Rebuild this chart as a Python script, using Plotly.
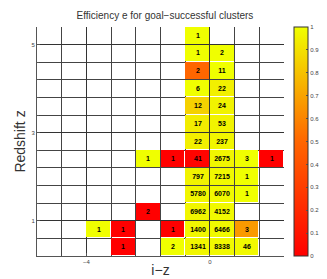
import plotly.graph_objects as go

# bin centres
iz_centers = [-5.2, -4.4, -3.6, -2.8, -2.0, -1.2, -0.4, 0.4, 1.2, 2.0]
z_centers = [0.4, 0.8, 1.2, 1.6, 2.0, 2.4, 2.8, 3.2, 3.6, 4.0, 4.4, 4.8, 5.2]

N = None
# number of clusters per cell (rows = redshift bins, bottom to top)
counts = [
    [N, N, N, 1, N, 2, 1341, 8338, 46, N],
    [N, N, 1, 1, N, 1, 1400, 6466, 3, N],
    [N, N, N, N, 2, N, 6962, 4152, N, N],
    [N, N, N, N, N, N, 5780, 6070, 1, N],
    [N, N, N, N, N, N, 797, 7215, 1, N],
    [N, N, N, N, 1, 1, 41, 2675, 3, 1],
    [N, N, N, N, N, N, 22, 237, N, N],
    [N, N, N, N, N, N, 17, 53, N, N],
    [N, N, N, N, N, N, 12, 24, N, N],
    [N, N, N, N, N, N, 6, 22, N, N],
    [N, N, N, N, N, N, 2, 11, N, N],
    [N, N, N, N, N, N, 1, 2, N, N],
    [N, N, N, N, N, N, 1, N, N, N],
]
# efficiency per cell
efficiency = [
    [N, N, N, 0.0, N, 1.0, 0.97, 0.98, 0.98, N],
    [N, N, 1.0, 0.0, N, 0.0, 0.97, 0.98, 0.67, N],
    [N, N, N, N, 0.0, N, 0.97, 0.98, N, N],
    [N, N, N, N, N, N, 0.97, 0.98, 1.0, N],
    [N, N, N, N, N, N, 0.96, 0.98, 1.0, N],
    [N, N, N, N, 1.0, 0.0, 0.02, 0.97, 1.0, 0.0],
    [N, N, N, N, N, N, 0.95, 0.97, N, N],
    [N, N, N, N, N, N, 0.94, 0.96, N, N],
    [N, N, N, N, N, N, 0.85, 0.96, N, N],
    [N, N, N, N, N, N, 1.0, 0.95, N, N],
    [N, N, N, N, N, N, 0.5, 1.0, N, N],
    [N, N, N, N, N, N, 1.0, 1.0, N, N],
    [N, N, N, N, N, N, 1.0, N, N, N],
]
cbar_ticks = [0, 0.1, 0.2, 0.3, 0.4, 0.5, 0.6, 0.7, 0.8, 0.9, 1]

text = [["" if c is None else str(c) for c in row] for row in counts]

fig = go.Figure(go.Heatmap(
    x=iz_centers, y=z_centers, z=efficiency,
    text=text, texttemplate="<b>%{text}</b>",
    textfont=dict(size=7, color="black", family="Liberation Sans"),
    zmin=0, zmax=1,
    colorscale=[[0, "#ff0000"], [0.5, "#ff6600"], [1, "#f0ff00"]],
    xgap=1, ygap=1,
    hoverongaps=False,
    colorbar=dict(
        x=1.042, xanchor="left", xpad=0, ypad=0,
        y=0.5, yanchor="middle", len=1, lenmode="fraction",
        thickness=14, outlinecolor="#333", outlinewidth=1,
        tickvals=cbar_ticks, ticks="inside", ticklen=2, tickcolor="#555",
        tickfont=dict(size=6, color="#444", family="Liberation Sans"),
    ),
))

fig.update_layout(
    width=327, height=279,
    margin=dict(l=26, r=39, t=19, b=26),
    paper_bgcolor="white", plot_bgcolor="white",
    font=dict(family="Liberation Sans", color="#333"),
    title=dict(text="Efficiency e for goal\u2212successful clusters",
               x=0.48, xanchor="center", y=0.985, yanchor="top",
               font=dict(size=10, color="#333")),
    showlegend=False,
)
fig.update_xaxes(
    range=[-5.6, 2.4], tick0=0, dtick=4,
    showgrid=True, gridcolor="#333", gridwidth=1,
    minor=dict(dtick=0.8, tick0=0, showgrid=True, gridcolor="#444", gridwidth=1,
               ticks="", ticklen=0),
    showline=True, linecolor="#555", linewidth=1, mirror=False,
    ticks="inside", ticklen=3, tickcolor="#555",
    tickfont=dict(size=6, color="#444"),
    zeroline=False,
    title=dict(text="i\u2212z", font=dict(size=14, color="#333"), standoff=0),
)
fig.update_yaxes(
    range=[0.2, 5.4], tick0=1, dtick=2,
    showgrid=True, gridcolor="#333", gridwidth=1,
    minor=dict(dtick=0.4, tick0=0.2, showgrid=True, gridcolor="#444", gridwidth=1,
               ticks="inside", ticklen=2, tickcolor="#555"),
    showline=True, linecolor="#555", linewidth=1, mirror=False,
    ticks="inside", ticklen=3, tickcolor="#555",
    tickfont=dict(size=6, color="#444"),
    zeroline=False,
    title=dict(text="Redshift z", font=dict(size=14, color="#333"), standoff=2),
)

fig.write_html("out.html")
